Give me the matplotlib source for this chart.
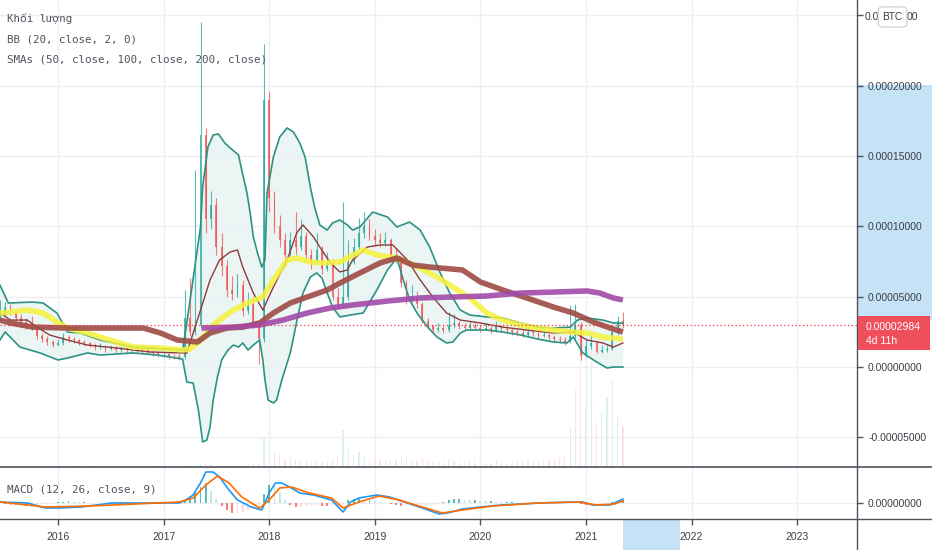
import numpy as np
import matplotlib
matplotlib.use("Agg")
import matplotlib.pyplot as plt
from matplotlib.patches import Rectangle, FancyBboxPatch
from matplotlib.lines import Line2D

# ---------------- data (prices in units of 1e-5 BTC) ----------------
bar_start, bar_step = 2015.45, 0.05
closes = [3.8, 4.3, 3.9, 3.5, 3.2, 3.0, 2.8, 2.2, 2.0, 1.8,
          1.6, 1.7, 2.1, 2.0, 1.9, 1.8, 1.7, 1.6, 1.4, 1.5,
          1.3, 1.4, 1.2, 1.3, 1.2, 1.2, 1.3, 1.2, 1.1, 1.0,
          0.9, 0.9, 0.8, 0.75, 0.7, 3.5, 2.5, 3.0, 16.5, 10.5,
          11.5, 8.5, 7.2, 5.5, 5.2, 5.8, 4.0, 4.5, 3.0, 2.0,
          19.0, 12.0, 10.0, 9.0, 8.0, 9.0, 8.5, 9.3, 8.0, 7.5,
          8.3, 7.0, 7.5, 5.0, 4.5, 5.0, 7.5, 8.5, 9.5, 10.0,
          9.3, 9.0, 8.8, 9.0, 8.0, 7.7, 6.0, 4.8, 5.0, 4.5,
          3.3, 2.9, 2.6, 2.8, 2.6, 3.0, 3.1, 2.9, 2.8, 2.9,
          2.8, 2.7, 2.8, 2.6, 2.9, 2.7, 2.6, 2.5, 2.4, 2.3,
          2.5, 2.4, 2.2, 2.3, 2.1, 2.0, 1.9, 1.8, 2.2, 3.0,
          0.8, 1.5, 1.7, 1.1, 1.2, 1.3, 2.5, 3.3, 2.984]
first_open = 3.5
highs = [4.8, 4.6, 4.5, 4.1, 3.8, 3.5, 3.6, 3.0, 2.4, 2.2,
         1.9, 2.0, 2.4, 2.3, 2.1, 2.0, 1.9, 1.8, 1.7, 1.7,
         1.6, 1.6, 1.5, 1.5, 1.4, 1.4, 1.5, 1.4, 1.3, 1.2,
         1.1, 1.1, 1.0, 0.9, 0.9, 5.5, 6.3, 14.0, 24.5, 17.0,
         12.5, 12.0, 9.5, 7.6, 6.5, 6.6, 6.2, 5.3, 5.0, 3.3,
         23.0, 19.6, 12.5, 10.8, 9.5, 9.6, 11.0, 10.5, 9.6, 8.4,
         9.5, 8.6, 8.2, 7.7, 5.6, 11.7, 9.0, 9.2, 10.6, 11.0,
         10.5, 9.8, 9.5, 9.6, 9.2, 8.4, 7.9, 6.2, 5.8, 5.4,
         4.6, 3.5, 3.0, 3.1, 2.9, 3.9, 3.8, 3.3, 3.1, 3.2,
         3.1, 3.0, 3.1, 2.9, 3.3, 3.0, 2.9, 2.8, 2.7, 2.6,
         2.8, 2.7, 2.5, 2.6, 2.4, 2.3, 2.2, 2.1, 4.4, 4.5,
         3.2, 2.0, 2.5, 1.9, 1.6, 1.6, 2.8, 3.6, 3.9]
lows = [3.3, 3.6, 3.7, 3.3, 3.0, 2.7, 2.6, 2.0, 1.8, 1.6,
        1.4, 1.5, 1.6, 1.8, 1.7, 1.6, 1.5, 1.4, 1.2, 1.3,
        1.1, 1.2, 1.0, 1.1, 1.0, 1.0, 1.1, 1.0, 0.9, 0.8,
        0.7, 0.7, 0.6, 0.6, 0.5, 0.6, 2.2, 2.3, 2.8, 9.5,
        9.8, 8.0, 6.5, 5.0, 4.8, 5.0, 3.6, 3.8, 2.8, 0.2,
        1.8, 11.0, 9.5, 8.5, 7.2, 7.8, 8.0, 8.3, 7.6, 7.0,
        7.3, 6.6, 6.8, 4.8, 4.2, 4.3, 4.8, 7.3, 8.3, 9.2,
        9.0, 8.6, 8.5, 8.6, 7.8, 7.4, 5.7, 4.5, 4.6, 4.2,
        3.1, 2.7, 2.4, 2.5, 2.4, 2.5, 2.8, 2.7, 2.6, 2.7,
        2.6, 2.5, 2.6, 2.4, 2.5, 2.5, 2.4, 2.3, 2.2, 2.1,
        2.2, 2.2, 2.0, 2.1, 1.9, 1.8, 1.7, 1.6, 1.7, 2.0,
        0.5, 0.7, 1.3, 1.0, 1.0, 1.1, 1.2, 2.3, 2.8]
volumes = [1, 1, 1, 1, 1, 1, 1, 1, 1, 1,
           1, 1, 1, 1, 1, 1, 1, 1, 1, 1,
           1, 1, 1, 1, 1, 1, 1, 1, 1, 1,
           1, 1, 1, 1, 1, 2, 2, 2, 3, 3,
           2, 2, 2, 2, 2, 2, 2, 2, 3, 4,
           30, 25, 15, 12, 8, 10, 8, 6, 6, 5,
           6, 5, 5, 8, 10, 37, 20, 12, 15, 10,
           8, 8, 7, 6, 6, 7, 10, 9, 6, 6,
           8, 6, 5, 5, 5, 8, 6, 5, 4, 5,
           4, 4, 5, 4, 6, 4, 4, 4, 5, 5,
           6, 5, 5, 6, 7, 8, 10, 12, 40, 77,
           107, 60, 105, 45, 55, 70, 87, 50, 40]

bb_up_t = [2015.45, 2015.53, 2015.76, 2015.86, 2015.99, 2016.09, 2016.21, 2016.40, 2016.71, 2017.18,
           2017.22, 2017.35, 2017.37, 2017.42, 2017.47, 2017.52, 2017.58, 2017.63, 2017.71, 2017.74,
           2017.79, 2017.82, 2017.85, 2017.89, 2017.93, 2017.96, 2017.98, 2018.04, 2018.10, 2018.17,
           2018.23, 2018.29, 2018.34, 2018.39, 2018.43, 2018.48, 2018.55, 2018.60, 2018.67, 2018.74,
           2018.79, 2018.86, 2018.98, 2019.12, 2019.21, 2019.33, 2019.43, 2019.52, 2019.62, 2019.71,
           2019.81, 2019.90, 2020.06, 2020.21, 2020.38, 2020.54, 2020.69, 2020.85, 2020.92, 2021.01,
           2021.16, 2021.26, 2021.35]
bb_up_v = [5.83, 4.55, 4.62, 4.55, 3.84, 2.49, 2.42, 1.92, 1.42, 1.21,
           3.13, 9.96, 12.80, 15.65, 16.50, 16.57, 15.93, 15.58, 15.08, 14.01,
           12.38, 10.95, 9.25, 8.11, 7.11, 7.61, 12.38, 14.94, 16.36, 17.0,
           16.71, 15.93, 14.94, 12.80, 11.38, 10.10, 9.74, 10.24, 10.46, 10.10,
           9.74, 9.96, 11.02, 10.67, 9.96, 10.31, 9.74, 8.53, 6.69, 5.26,
           4.05, 3.70, 3.56, 3.49, 3.13, 2.84, 2.77, 2.84, 3.34, 3.49,
           3.34, 3.13, 3.13]
bb_lo_t = [2015.45, 2015.50, 2015.64, 2015.83, 2016.00, 2016.09, 2016.28, 2016.40, 2016.71, 2016.94,
           2017.18, 2017.22, 2017.28, 2017.33, 2017.37, 2017.41, 2017.44, 2017.47, 2017.51, 2017.55,
           2017.61, 2017.66, 2017.71, 2017.75, 2017.80, 2017.85, 2017.91, 2017.94, 2017.96, 2017.99,
           2018.04, 2018.07, 2018.12, 2018.20, 2018.27, 2018.32, 2018.39, 2018.45, 2018.50, 2018.55,
           2018.60, 2018.67, 2018.77, 2018.89, 2019.02, 2019.12, 2019.21, 2019.27, 2019.33, 2019.40,
           2019.50, 2019.59, 2019.68, 2019.74, 2019.81, 2019.87, 2020.06, 2020.21, 2020.38, 2020.54,
           2020.69, 2020.82, 2020.88, 2020.97, 2021.10, 2021.20, 2021.26, 2021.35]
bb_lo_v = [1.92, 2.49, 1.42, 1.00, 0.50, 0.64, 1.00, 0.85, 1.00, 0.85,
           0.57, -1.07, -1.14, -3.06, -5.33, -5.19, -4.27, -2.35, -0.71, 0.50,
           1.21, 1.56, 1.42, 1.71, 1.21, 1.56, 1.92, 0.50, -0.92, -2.35,
           -2.56, -2.35, -0.92, 1.00, 3.56, 5.26, 6.40, 6.69, 6.33, 5.26,
           4.27, 3.56, 3.70, 3.84, 5.48, 6.90, 7.75, 6.19, 4.77, 3.84,
           2.84, 2.13, 1.71, 1.78, 2.42, 2.63, 2.63, 2.49, 2.28, 1.99,
           1.78, 1.71, 2.13, 1.00, 0.36, -0.07, 0.00, 0.00]
bb_mid_t = [2015.45, 2015.55, 2015.71, 2015.80, 2015.92, 2016.09, 2016.28, 2016.56, 2016.87, 2017.18,
            2017.22, 2017.35, 2017.44, 2017.53, 2017.63, 2017.70, 2017.75, 2017.85, 2017.94, 2018.04,
            2018.17, 2018.26, 2018.32, 2018.42, 2018.48, 2018.58, 2018.67, 2018.74, 2018.79, 2018.93,
            2019.05, 2019.17, 2019.31, 2019.43, 2019.55, 2019.68, 2019.81, 2020.00, 2020.21, 2020.44,
            2020.69, 2020.88, 2021.01, 2021.16, 2021.26, 2021.35]
bb_mid_v = [3.84, 3.34, 3.34, 2.84, 2.28, 1.92, 1.56, 1.35, 1.07, 1.00,
            1.00, 4.05, 6.19, 7.61, 8.18, 8.32, 7.11, 5.26, 4.05, 5.69,
            7.61, 9.53, 10.10, 9.25, 8.53, 7.40, 6.76, 6.90, 7.61, 8.53,
            8.68, 8.68, 7.61, 6.19, 4.98, 3.84, 3.34, 3.13, 2.84, 2.63,
            2.42, 2.49, 1.92, 1.71, 1.42, 1.71]
sma50_t = [2015.45, 2015.55, 2015.71, 2015.86, 2015.99, 2016.09, 2016.28, 2016.49, 2016.71, 2016.97,
           2017.18, 2017.25, 2017.35, 2017.47, 2017.63, 2017.79, 2017.94, 2018.04, 2018.17, 2018.26,
           2018.39, 2018.51, 2018.67, 2018.89, 2019.02, 2019.21, 2019.43, 2019.59, 2019.74, 2019.90,
           2020.06, 2020.21, 2020.38, 2020.54, 2020.69, 2020.85, 2021.01, 2021.16, 2021.35]
sma50_v = [3.84, 3.91, 4.05, 3.84, 3.20, 2.77, 2.42, 1.92, 1.42, 1.35,
           1.21, 1.28, 1.92, 2.99, 3.91, 4.55, 4.98, 6.19, 7.61, 7.75,
           7.47, 7.40, 7.47, 8.32, 7.97, 7.75, 7.04, 6.40, 5.69, 4.91,
           3.84, 3.34, 2.99, 2.77, 2.63, 2.49, 2.42, 2.13, 1.99]
sma100_t = [2015.45, 2015.55, 2015.76, 2016.09, 2016.40, 2016.81, 2016.97, 2017.13, 2017.32, 2017.44,
            2017.60, 2017.75, 2017.91, 2018.04, 2018.20, 2018.36, 2018.55, 2018.67, 2018.86, 2019.05,
            2019.21, 2019.36, 2019.52, 2019.83, 2020.00, 2020.21, 2020.44, 2020.69, 2020.88, 2021.07,
            2021.23, 2021.35]
sma100_v = [3.34, 3.13, 2.84, 2.77, 2.77, 2.77, 2.42, 1.92, 1.78, 2.42,
            2.77, 2.84, 3.13, 3.84, 4.55, 4.98, 5.48, 5.97, 6.69, 7.40,
            7.75, 7.25, 7.11, 6.90, 6.05, 5.48, 4.91, 4.27, 3.84, 3.20,
            2.77, 2.49]
sma200_t = [2017.36, 2017.66, 2017.91, 2018.13, 2018.36, 2018.58, 2018.79, 2019.12, 2019.43, 2019.74,
            2020.06, 2020.38, 2020.69, 2021.01, 2021.13, 2021.26, 2021.35]
sma200_v = [2.77, 2.84, 2.99, 3.34, 3.84, 4.20, 4.41, 4.69, 4.91, 4.98,
            5.05, 5.26, 5.33, 5.41, 5.26, 4.91, 4.77]

# MACD (units of 1e-6)
macd_t = [2015.45, 2015.71, 2015.88, 2016.00, 2016.22, 2016.51, 2016.73, 2017.15, 2017.21, 2017.28,
          2017.35, 2017.40, 2017.47, 2017.53, 2017.62, 2017.70, 2017.83, 2017.93, 2018.00, 2018.06,
          2018.12, 2018.21, 2018.29, 2018.42, 2018.59, 2018.70, 2018.77, 2018.85, 2019.02, 2019.14,
          2019.28, 2019.45, 2019.61, 2019.69, 2019.83, 2020.00, 2020.20, 2020.55, 2020.89, 2020.97,
          2021.06, 2021.23, 2021.35]
macd_v = [0.1, 0.0, -0.5, -0.5, -0.4, 0.0, 0.0, 0.0, 0.3, 0.8,
          2.0, 3.1, 3.1, 2.6, 1.3, 0.3, -0.4, -0.7, 1.0, 2.0,
          2.0, 1.5, 1.0, 0.8, 0.3, -0.9, 0.1, 0.5, 0.8, 0.6,
          0.1, -0.5, -1.1, -1.0, -0.6, -0.4, -0.2, 0.0, 0.1, 0.1,
          -0.2, -0.2, 0.4]
signal_t = [2015.45, 2015.88, 2016.30, 2017.15, 2017.28, 2017.40, 2017.51, 2017.62, 2017.74, 2017.91,
            2018.00, 2018.10, 2018.21, 2018.38, 2018.59, 2018.70, 2018.85, 2019.04, 2019.23, 2019.45,
            2019.64, 2019.83, 2020.12, 2020.55, 2020.93, 2021.10, 2021.27, 2021.35]
signal_v = [0.1, -0.4, -0.3, 0.1, 0.5, 1.8, 2.7, 2.0, 0.6, -0.5,
            0.3, 1.5, 1.6, 1.0, 0.5, -0.5, 0.1, 0.7, 0.3, -0.4,
            -1.0, -0.7, -0.3, 0.0, 0.1, -0.2, -0.1, 0.2]
hist_v = [0.0, -0.1, -0.15, -0.2, -0.2, -0.25, -0.2, -0.15, -0.1, -0.05,
          0.05, 0.1, 0.15, 0.2, 0.15, 0.1, 0.1, 0.05, 0.05, 0.0,
          0.0, 0.05, 0.1, 0.1, 0.1, 0.1, 0.05, 0.05, 0.0, 0.0,
          0.0, 0.0, 0.0, 0.0, 0.0, 0.3, 0.6, 1.0, 1.6, 2.0,
          1.2, 0.4, -0.3, -0.7, -1.0, -1.0, -0.9, -0.7, -0.4, -0.2,
          0.9, 1.8, 1.6, 1.0, 0.3, -0.2, -0.4, -0.4, -0.3, -0.2,
          -0.2, -0.25, -0.3, -0.3, -0.3, -0.2, 0.3, 0.4, 0.4, 0.3,
          0.3, 0.2, 0.1, 0.0, -0.1, -0.2, -0.3, -0.3, -0.3, -0.2,
          -0.2, -0.15, -0.1, -0.05, 0.1, 0.3, 0.4, 0.4, 0.35, 0.3,
          0.3, 0.25, 0.2, 0.2, 0.15, 0.1, 0.1, 0.1, 0.05, 0.05,
          0.05, 0.0, 0.0, 0.05, 0.05, 0.0, 0.0, 0.05, 0.1, 0.15,
          -0.1, -0.2, -0.2, -0.15, -0.1, 0.05, 0.15, 0.25, 0.3]

years = [2016, 2017, 2018, 2019, 2020, 2021, 2022, 2023]
price_ticks = [-5, 0, 5, 10, 15, 20, 25]
last_price = 2.984
last_price_label = "0.00002984"
countdown = "4d 11h"
legend_lines = ["Khối lượng", "BB (20, close, 2, 0)", "SMAs (50, close, 100, close, 200, close)"]
macd_label = "MACD (12, 26, close, 9)"
hl_price = (3.34, 20.06)     # highlighted price range on the axis
hl_time = (2021.35, 2021.89)  # highlighted time range on the axis

# ---------------- layout ----------------
W, H = 932, 550
PANE_R, MAIN_B, MACD_B = 857, 467, 519
X0 = 2015.451
X1 = X0 + PANE_R / 105.6

fig = plt.figure(figsize=(W / 100, H / 100), dpi=100)
fig.patch.set_facecolor("white")

def fx(px):
    return px / W

def fy(py):
    return 1 - py / H

grid_c = "#eceff4"
axis_c = "#50535e"
text_c = "#3c3f47"
lab_font = "Liberation Sans"
mono = ["DejaVu Sans Mono", "DejaVu Sans"]

vax = fig.add_axes([0, fy(MAIN_B), fx(PANE_R), MAIN_B / H])
ax = fig.add_axes([0, fy(MAIN_B), fx(PANE_R), MAIN_B / H], sharex=vax)
mx = fig.add_axes([0, fy(MACD_B), fx(PANE_R), (MACD_B - MAIN_B) / H], sharex=vax)
vax.set_zorder(0)
ax.set_zorder(1)
ax.patch.set_alpha(0)

n = len(closes)
t = bar_start + bar_step * np.arange(n)
c = np.array(closes)
o = np.concatenate([[first_open], c[:-1]])
hi = np.array(highs)
lo = np.array(lows)
up = c >= o
green, red = "#26a69a", "#ef5350"
cols = np.where(up, green, red)

# volume
vol = np.array(volumes, dtype=float)
vax.bar(t, vol, width=0.012, color=cols, alpha=0.16, linewidth=0)
vax.set_ylim(0, vol.max() * MAIN_B / 107.0)
vax.set_xlim(X0, X1)
vax.axis("off")

# main pane
ax.set_xlim(X0, X1)
ax.set_ylim(-7.11, 26.10)
ax.set_xticks(years)
ax.set_yticks(price_ticks)
ax.grid(True, color=grid_c, lw=1.0, zorder=0)
for s in ax.spines.values():
    s.set_visible(False)
ax.tick_params(axis="x", bottom=False, labelbottom=False)
ax.yaxis.tick_right()
ax.tick_params(axis="y", direction="out", length=4, width=1, color=axis_c, pad=4,
               labelsize=7.5, labelcolor=text_c)
# the top label is partly hidden by the currency badge, drawn separately below
ax.set_yticklabels([f"{v * 1e-5:.8f}" if v != price_ticks[-1] else "" for v in price_ticks],
                   fontfamily=lab_font)

# Bollinger bands
ut = np.array(bb_up_t); uv = np.array(bb_up_v)
lt = np.array(bb_lo_t); lv = np.array(bb_lo_v)
poly_x = np.concatenate([ut, lt[::-1]])
poly_y = np.concatenate([uv, lv[::-1]])
ax.fill(poly_x, poly_y, color="#e3f2f0", alpha=0.7, lw=0, zorder=1)

# candles
ax.vlines(t, lo, hi, colors=cols, lw=0.8, alpha=0.75, zorder=2)
body_b = np.minimum(o, c)
body_h = np.maximum(np.abs(c - o), 0.06)
ax.bar(t, body_h, bottom=body_b, width=0.018, color=cols, alpha=0.75, lw=0, zorder=2)

ax.plot(ut, uv, color="#2b9384", lw=1.2, zorder=3)
ax.plot(lt, lv, color="#2b9384", lw=1.2, zorder=3)
ax.plot(bb_mid_t, bb_mid_v, color="#8e3b3b", lw=1.0, zorder=3)

# SMAs
ax.plot(sma50_t, sma50_v, color="#f5f23c", lw=4, alpha=0.85, solid_capstyle="butt", zorder=4)
ax.plot(sma100_t, sma100_v, color="#9e4a45", lw=4, alpha=0.9, solid_capstyle="butt", zorder=5)
ax.plot(sma200_t, sma200_v, color="#a14aa8", lw=4, alpha=0.9, solid_capstyle="butt", zorder=6)

# last price line
ax.axhline(last_price, color="#f23645", lw=0.9, ls=(0, (1, 2)), zorder=7)

# MACD pane
mx.set_xlim(X0, X1)
mx.set_ylim(-1.6, 3.6)
hist = np.array(hist_v)
hcols = []
prev = 0.0
for h in hist:
    if h >= 0:
        hcols.append("#26a69a" if h >= prev else "#b2dfdb")
    else:
        hcols.append("#ff5252" if h < prev else "#ffcdd2")
    prev = h
mx.bar(t, hist, width=0.018, color=hcols, alpha=0.75, lw=0, zorder=2)
mx.plot(macd_t, macd_v, color="#2196f3", lw=1.2, zorder=3)
mx.plot(signal_t, signal_v, color="#ff6d00", lw=1.2, zorder=4)
mx.set_xticks(years)
mx.set_yticks([0])
mx.grid(True, color=grid_c, lw=1.0, zorder=0)
for s in mx.spines.values():
    s.set_visible(False)
mx.yaxis.tick_right()
mx.tick_params(axis="y", direction="out", length=4, width=1, color=axis_c, pad=4,
               labelsize=7.5, labelcolor=text_c)
mx.set_yticklabels(["0.00000000"], fontfamily=lab_font)
mx.tick_params(axis="x", direction="out", length=4, width=1, color=axis_c, pad=5,
               labelsize=7.5, labelcolor=text_c)
mx.set_xticklabels([str(y) for y in years], fontfamily=lab_font)

# highlights on axes
hp_top = 367 - 14.06 * hl_price[1]
hp_bot = 367 - 14.06 * hl_price[0]
fig.patches.append(Rectangle((fx(PANE_R + 1), fy(hp_bot)), fx(W - PANE_R), (hp_bot - hp_top) / H,
                             transform=fig.transFigure, facecolor="#c6e2f7", lw=0, zorder=-1))
hx0 = (hl_time[0] - X0) * 105.6
hx1 = (hl_time[1] - X0) * 105.6
fig.patches.append(Rectangle((fx(hx0), 0), fx(hx1 - hx0), fy(MACD_B + 1),
                             transform=fig.transFigure, facecolor="#c6e2f7", lw=0, zorder=-1))

# frame lines
fig.add_artist(Line2D([fx(PANE_R), fx(PANE_R)], [0, 1], color=axis_c, lw=1.0))
fig.add_artist(Line2D([0, 1], [fy(MAIN_B), fy(MAIN_B)], color=axis_c, lw=1.2))
fig.add_artist(Line2D([0, 1], [fy(MACD_B), fy(MACD_B)], color=axis_c, lw=1.0))

# last price label
py = 367 - 14.06 * last_price
fig.patches.append(Rectangle((fx(PANE_R + 1), fy(py + 25)), fx(72), 34 / H,
                             transform=fig.transFigure, facecolor="#ef4f5b", lw=0, zorder=5))
fig.text(fx(PANE_R + 9), fy(py + 2), last_price_label, color="white", fontsize=7.5,
         fontfamily=lab_font, va="center", ha="left", zorder=6)
fig.text(fx(PANE_R + 9), fy(py + 16), countdown, color="white", fontsize=7.5,
         fontfamily=lab_font, va="center", ha="left", zorder=6)

# top tick label, partly covered by the BTC badge: "0.0" ... "00"
top_lab = f"{price_ticks[-1] * 1e-5:.8f}"
fig.text(fx(865), fy(17), top_lab[:3], color=text_c, fontsize=7.5, fontfamily=lab_font,
         ha="left", va="center")
fig.text(fx(907), fy(17), top_lab[-2:], color=text_c, fontsize=7.5, fontfamily=lab_font,
         ha="left", va="center")
fig.patches.append(FancyBboxPatch((fx(880), fy(26)), fx(25), 18 / H,
                                  boxstyle="round,pad=0.002,rounding_size=0.006",
                                  transform=fig.transFigure, facecolor="white",
                                  edgecolor="#c8cbd2", lw=0.8, zorder=5))
fig.text(fx(892.5), fy(17), "BTC", color=text_c, fontsize=7.3, fontfamily=lab_font,
         ha="center", va="center", zorder=6)

# legend texts
for i, s in enumerate(legend_lines):
    fig.text(fx(7), fy(18 + 21 * i), s, color="#50535e", fontsize=7.8,
             family=mono, va="center", ha="left")
fig.text(fx(7), fy(490), macd_label, color="#50535e", fontsize=7.8,
         family=mono, va="center", ha="left")

fig.savefig("out.png", dpi=100, facecolor="white")
